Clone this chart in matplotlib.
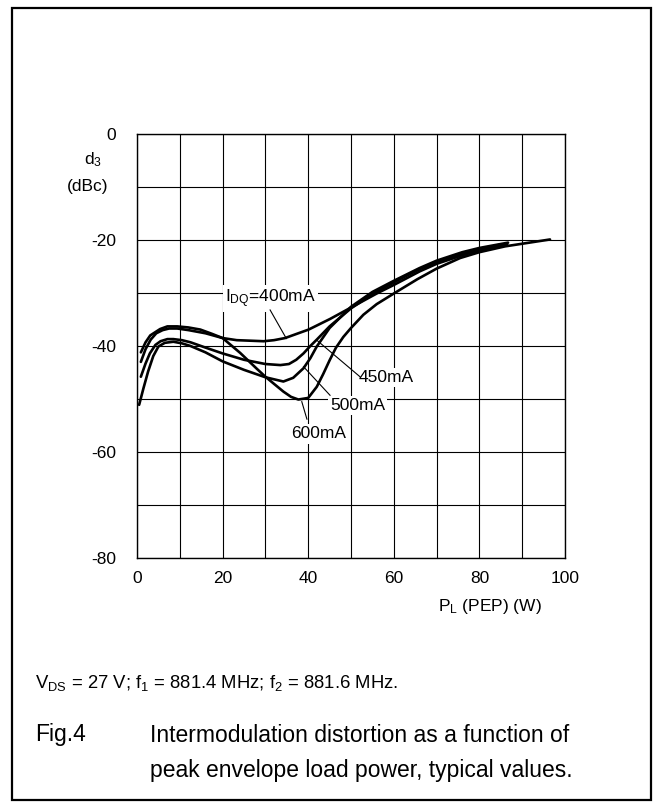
import matplotlib
matplotlib.use("Agg")
import matplotlib.pyplot as plt
from matplotlib.patches import Rectangle

plt.rcParams['font.family'] = ['Liberation Sans', 'DejaVu Sans']
plt.rcParams['mathtext.fontset'] = 'custom'
plt.rcParams['mathtext.rm'] = 'Liberation Sans'
plt.rcParams['mathtext.it'] = 'Liberation Sans'

# ---- data ----
x_400 = [0.9, 2.0, 3.1, 5.4, 7.1, 9.4, 12.0, 14.8, 17.5, 20.0, 23.3, 26.5, 29.6, 32.0, 34.6,
         37.0, 40.1, 45.1, 50.1, 56.0, 60.2, 66.1, 70.0, 76.3, 80.0, 86.5]
y_400 = [-41.2, -39.3, -38.0, -36.8, -36.3, -36.3, -36.5, -36.9, -37.7, -38.5, -38.9, -39.0, -39.1, -38.9, -38.5,
         -37.8, -36.9, -34.9, -32.7, -30.1, -28.4, -25.9, -24.5, -22.8, -22.0, -20.8]

x_450 = [0.9, 2.0, 3.0, 4.3, 5.5, 7.1, 8.5, 10.5, 12.5, 16.0, 20.0, 25.0, 30.0, 33.5, 35.5,
         37.2, 38.9, 40.5, 42.0, 45.0, 50.0, 55.0, 60.0, 66.0, 70.0, 76.0, 80.0, 85.3]
y_450 = [-45.8, -43.3, -41.4, -39.8, -39.1, -38.7, -38.7, -38.9, -39.3, -40.3, -41.4, -42.6, -43.4, -43.6, -43.4,
         -42.6, -41.4, -40.0, -38.8, -36.3, -32.9, -30.2, -28.0, -25.5, -24.2, -22.6, -21.8, -20.8]

x_500 = [0.5, 1.5, 2.6, 3.8, 5.0, 6.5, 8.5, 10.5, 12.5, 16.0, 20.0, 25.0, 30.0, 34.2, 36.5,
         38.9, 40.5, 42.0, 45.0, 50.0, 55.0, 60.0, 66.0, 70.0, 76.0, 80.0, 86.7]
y_500 = [-51.1, -48.0, -44.8, -41.9, -40.1, -39.4, -39.2, -39.5, -40.0, -41.2, -42.9, -44.5, -45.9, -46.7, -46.0,
         -44.2, -42.3, -40.1, -36.6, -32.6, -29.8, -27.7, -25.3, -23.9, -22.3, -21.5, -20.5]

x_600 = [0.9, 2.0, 3.2, 4.5, 6.0, 7.5, 9.4, 12.0, 16.0, 20.0, 24.1, 28.0, 30.0, 34.2, 36.0,
         37.7, 40.0, 42.0, 43.5, 45.0, 46.5, 48.2, 50.0, 52.9, 56.0, 60.2, 65.5, 70.0, 75.5, 80.0, 86.0, 96.5]
y_600 = [-43.0, -40.6, -38.8, -37.6, -37.0, -36.7, -36.7, -37.0, -37.6, -38.5, -41.3, -44.3, -45.8, -48.6, -49.6,
         -50.1, -49.8, -47.7, -45.3, -42.7, -40.3, -38.3, -36.6, -34.1, -32.1, -30.0, -27.4, -25.4, -23.4, -22.3, -21.2, -19.9]

x_ticks = [0, 20, 40, 60, 80, 100]
y_ticks = [0, -20, -40, -60, -80]

W, H = 656, 805
fig = plt.figure(figsize=(W / 100, H / 100), dpi=100)

def fx(px):
    return px / W

def fy(py):
    return 1 - py / H

# outer frame
fig.patches.append(Rectangle((fx(12), fy(800)), fx(651) - fx(12), fy(8) - fy(800),
                             transform=fig.transFigure, fill=False, edgecolor='black', linewidth=1.6))

ax = fig.add_axes([fx(137), fy(558), fx(565) - fx(137), fy(134) - fy(558)])
ax.set_xlim(0, 100)
ax.set_ylim(-80, 0)
ax.set_xticks(range(0, 101, 10))
ax.set_yticks(range(-80, 1, 10))
ax.grid(True, color='black', linewidth=0.8)
ax.set_axisbelow(True)
ax.set_xticklabels([str(v) if v in x_ticks else '' for v in range(0, 101, 10)], fontsize=12.5)
ax.set_yticklabels([str(v) if v in y_ticks else '' for v in range(-80, 1, 10)], fontsize=12.5)
ax.tick_params(axis='both', length=0)
ax.tick_params(axis='x', pad=9)
ax.tick_params(axis='y', pad=15)
for s in ax.spines.values():
    s.set_linewidth(1.0)
    s.set_color('black')

lw = 1.9
for xs, ys in [(x_400, y_400), (x_450, y_450), (x_500, y_500), (x_600, y_600)]:
    ax.plot(xs, ys, color='black', linewidth=lw, solid_joinstyle='round', solid_capstyle='round')

# curve labels with leader lines
box = dict(facecolor='white', edgecolor='none', pad=1.5)
lab_kw = dict(fontsize=12.5, ha='center', va='center', bbox=box, zorder=5)
ax.text(31.1, -31.0, r'I$_{\mathrm{DQ}}$=400mA', **lab_kw)
ax.plot([31.1, 34.9], [-33.2, -38.6], color='black', linewidth=0.8, zorder=6)
ax.text(58.3, -45.9, '450mA', **lab_kw)
ax.plot([52.1, 42.0], [-45.8, -38.9], color='black', linewidth=0.8, zorder=6)
ax.text(51.6, -51.2, '500mA', **lab_kw)
ax.plot([45.1, 38.9], [-49.3, -43.9], color='black', linewidth=0.8, zorder=6)
ax.text(42.4, -56.6, '600mA', **lab_kw)
ax.plot([39.7, 38.5], [-53.8, -50.5], color='black', linewidth=0.8, zorder=6)

# axis titles
fig.text(fx(93), fy(160), r'd$_{\mathrm{3}}$', fontsize=12.5, ha='center', va='center')
fig.text(fx(88), fy(186), '(dBc)', fontsize=12.5, ha='center', va='center')
fig.text(fx(490), fy(606), r'P$_{\mathrm{L}}$ (PEP) (W)', fontsize=12.5, ha='center', va='center')

# notes and caption
fig.text(fx(35), fy(683), r'V$_{\mathrm{DS}}$ = 27 V; f$_{\mathrm{1}}$ = 881.4 MHz; f$_{\mathrm{2}}$ = 881.6 MHz.',
         fontsize=13.3, ha='left', va='center')
fig.text(fx(35), fy(735), 'Fig.4', fontsize=16.5, ha='left', va='center')
fig.text(fx(150), fy(735), 'Intermodulation distortion as a function of', fontsize=16.5, ha='left', va='center')
fig.text(fx(150), fy(770), 'peak envelope load power, typical values.', fontsize=16.5, ha='left', va='center')

fig.savefig('out.png', dpi=100)
